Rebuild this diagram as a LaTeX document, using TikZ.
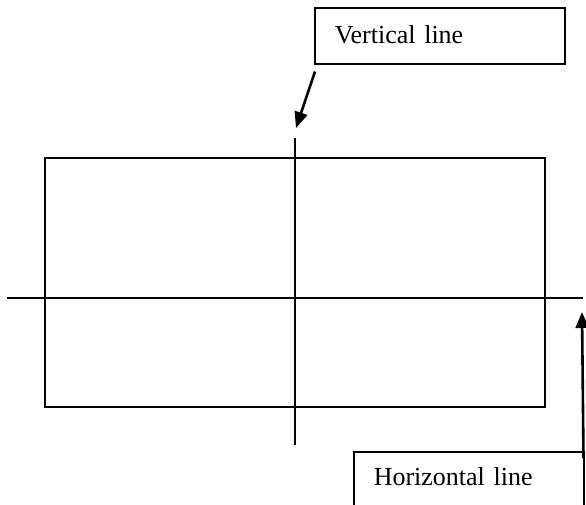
\documentclass[tikz,border=0pt]{standalone}
\usepackage{fontspec}
\setmainfont{Liberation Serif}
\usetikzlibrary{arrows.meta}

\tikzset{
	labelbox/.style={draw, line width=1.5pt, anchor=north west, align=left, inner xsep=20pt,
		font=\fontsize{26}{30}\selectfont, text height=18pt},
	pointer/.style={line width=2.6pt, -{Triangle[length=16pt, width=13pt]}},
	thinline/.style={line width=1.5pt}
}

\begin{document}
\begin{tikzpicture}[x=1pt, y=-1pt]
			\useasboundingbox (0, 0) rectangle (586, 504);

			\draw [thinline] (45, 158) rectangle (545, 407);
			\draw [thinline] (295, 138) -- (295, 445);
			\draw [thinline] (7, 298) -- (583, 298);

			\node [labelbox, text width=210pt, text depth=2pt, inner ysep=18pt]
			(vbox) at (314, 7) {Vertical line};
			\node [labelbox, text width=190pt, text depth=30pt, inner ysep=16pt]
			(hbox) at (353, 451) {Horizontal line};

			\coordinate (vtip) at (296, 128);
			\coordinate (htip) at (582, 312);

			\draw [pointer] ([xshift=1pt, yshift=-7pt]vbox.south west) -- (vtip);
			\draw [pointer] ([xshift=-1pt, yshift=-7pt]hbox.north east) -- (htip);
		\end{tikzpicture}
\end{document}
